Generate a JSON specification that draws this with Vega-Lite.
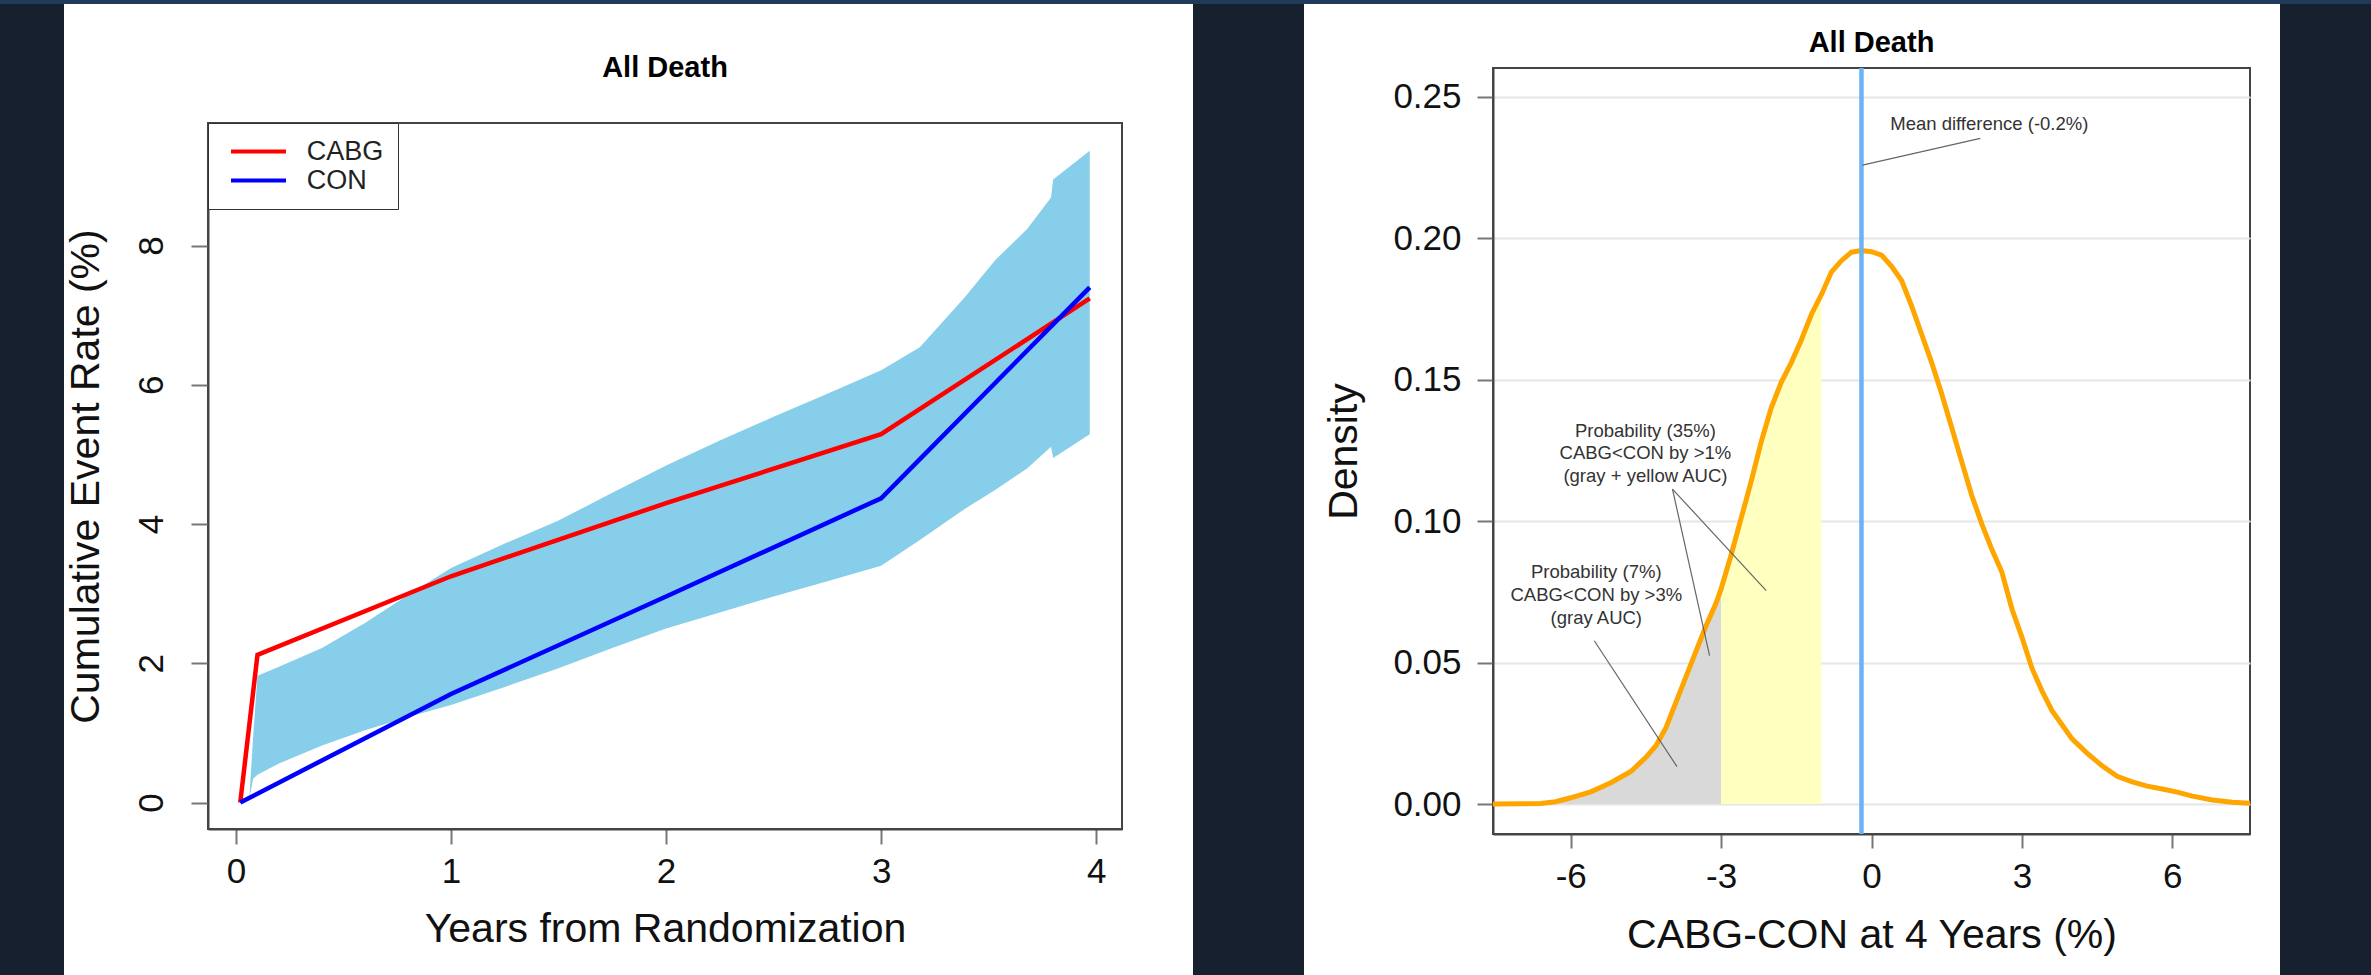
{
  "$schema": "https://vega.github.io/schema/vega-lite/v6.json",
  "background": "white",
  "padding": 0,
  "autosize": {"type": "pad"},
  "spacing": 0,
  "resolve": {"legend": {"color": "independent"}},
  "config": {
    "font": "Liberation Sans",
    "view": {"stroke": null},
    "concat": {"spacing": 0},
    "axis": {
      "labelFont": "Liberation Sans",
      "titleFont": "Liberation Sans",
      "labelFontSize": 35,
      "titleFontSize": 41,
      "titleFontWeight": "normal",
      "labelColor": "#111",
      "titleColor": "#111",
      "tickColor": "#777",
      "tickWidth": 2,
      "domainColor": "#444",
      "domainWidth": 2,
      "labelFlush": false,
      "labelOverlap": false,
      "labelBound": false,
      "grid": false
    }
  },
  "datasets": {
    "curves": [
      {"year": 0.02, "rate": 0, "group": "CABG"},
      {"year": 0.1, "rate": 2.12, "group": "CABG"},
      {"year": 1, "rate": 3.25, "group": "CABG"},
      {"year": 2, "rate": 4.3, "group": "CABG"},
      {"year": 3, "rate": 5.29, "group": "CABG"},
      {"year": 3.97, "rate": 7.24, "group": "CABG"},
      {"year": 0.02, "rate": 0, "group": "CON"},
      {"year": 1, "rate": 1.56, "group": "CON"},
      {"year": 2, "rate": 2.96, "group": "CON"},
      {"year": 3, "rate": 4.37, "group": "CON"},
      {"year": 3.97, "rate": 7.4, "group": "CON"}
    ],
    "band": [
      {"year": 0.062, "lo": 0.06, "hi": 0.06},
      {"year": 0.08, "lo": 0.34, "hi": 0.95},
      {"year": 0.1, "lo": 0.4, "hi": 1.82},
      {"year": 0.2, "lo": 0.56, "hi": 1.95},
      {"year": 0.4, "lo": 0.82, "hi": 2.22},
      {"year": 0.6, "lo": 1.04, "hi": 2.58},
      {"year": 0.8, "lo": 1.23, "hi": 2.98},
      {"year": 1.0, "lo": 1.4, "hi": 3.37},
      {"year": 1.25, "lo": 1.66, "hi": 3.72},
      {"year": 1.5, "lo": 1.93, "hi": 4.05},
      {"year": 1.75, "lo": 2.22, "hi": 4.45},
      {"year": 2.0, "lo": 2.5, "hi": 4.84},
      {"year": 2.25, "lo": 2.73, "hi": 5.2},
      {"year": 2.5, "lo": 2.96, "hi": 5.54},
      {"year": 2.75, "lo": 3.18, "hi": 5.87},
      {"year": 3.0, "lo": 3.4, "hi": 6.21},
      {"year": 3.18, "lo": 3.77, "hi": 6.54},
      {"year": 3.39, "lo": 4.22, "hi": 7.26},
      {"year": 3.53, "lo": 4.49, "hi": 7.79},
      {"year": 3.68, "lo": 4.8, "hi": 8.24},
      {"year": 3.79, "lo": 5.11, "hi": 8.69},
      {"year": 3.8, "lo": 4.95, "hi": 8.95},
      {"year": 3.97, "lo": 5.29, "hi": 9.36}
    ],
    "density": [
      {"diff": -7.6, "dens": 0.0},
      {"diff": -7.0, "dens": 0.0001},
      {"diff": -6.6, "dens": 0.0002},
      {"diff": -6.3, "dens": 0.0008},
      {"diff": -6.0, "dens": 0.0022},
      {"diff": -5.6, "dens": 0.0043},
      {"diff": -5.2, "dens": 0.0075},
      {"diff": -4.8, "dens": 0.0115},
      {"diff": -4.5, "dens": 0.0165},
      {"diff": -4.3, "dens": 0.0206},
      {"diff": -4.1, "dens": 0.027},
      {"diff": -3.9, "dens": 0.036},
      {"diff": -3.7, "dens": 0.045},
      {"diff": -3.5, "dens": 0.054},
      {"diff": -3.3, "dens": 0.063},
      {"diff": -3.1, "dens": 0.071},
      {"diff": -3.0, "dens": 0.076},
      {"diff": -2.8, "dens": 0.088},
      {"diff": -2.6, "dens": 0.101},
      {"diff": -2.4, "dens": 0.114},
      {"diff": -2.2, "dens": 0.128},
      {"diff": -2.0, "dens": 0.14},
      {"diff": -1.8, "dens": 0.149},
      {"diff": -1.6, "dens": 0.156},
      {"diff": -1.4, "dens": 0.164},
      {"diff": -1.2, "dens": 0.173},
      {"diff": -1.0, "dens": 0.18},
      {"diff": -0.8, "dens": 0.188},
      {"diff": -0.6, "dens": 0.192},
      {"diff": -0.4, "dens": 0.195},
      {"diff": -0.2, "dens": 0.1956},
      {"diff": 0.0, "dens": 0.1952},
      {"diff": 0.2, "dens": 0.194},
      {"diff": 0.4, "dens": 0.19},
      {"diff": 0.6, "dens": 0.185},
      {"diff": 0.8, "dens": 0.176},
      {"diff": 1.0, "dens": 0.166},
      {"diff": 1.2, "dens": 0.156},
      {"diff": 1.4, "dens": 0.145},
      {"diff": 1.6, "dens": 0.133},
      {"diff": 1.8, "dens": 0.121},
      {"diff": 2.0, "dens": 0.109},
      {"diff": 2.2, "dens": 0.099},
      {"diff": 2.4, "dens": 0.09},
      {"diff": 2.6, "dens": 0.082},
      {"diff": 2.8, "dens": 0.069},
      {"diff": 3.0, "dens": 0.059},
      {"diff": 3.2, "dens": 0.048},
      {"diff": 3.4, "dens": 0.04},
      {"diff": 3.6, "dens": 0.033},
      {"diff": 3.8, "dens": 0.028},
      {"diff": 4.0, "dens": 0.023},
      {"diff": 4.3, "dens": 0.018},
      {"diff": 4.6, "dens": 0.0135},
      {"diff": 4.9, "dens": 0.0098},
      {"diff": 5.2, "dens": 0.0078},
      {"diff": 5.5, "dens": 0.0063},
      {"diff": 5.8, "dens": 0.0053},
      {"diff": 6.1, "dens": 0.0042},
      {"diff": 6.4, "dens": 0.0028},
      {"diff": 6.8, "dens": 0.0014},
      {"diff": 7.2, "dens": 0.0006},
      {"diff": 7.6, "dens": 0.0002}
    ],
    "mean": [{"mean": -0.2}],
    "leaders": [
      {"x": 2.17, "y": 0.2352, "x2": -0.18, "y2": 0.2258},
      {"x": -3.97, "y": 0.1113, "x2": -3.23, "y2": 0.0524},
      {"x": -3.97, "y": 0.1113, "x2": -2.1, "y2": 0.0754},
      {"x": -5.53, "y": 0.0577, "x2": -3.88, "y2": 0.0132}
    ],
    "notes": [
      {"x": 2.35, "y": 0.2403, "label": "Mean difference (-0.2%)"},
      {"x": -4.51, "y": 0.1319, "label": "Probability (35%)\nCABG<CON by >1%\n(gray + yellow AUC)"},
      {"x": -5.49, "y": 0.0819, "label": "Probability (7%)\nCABG<CON by >3%\n(gray AUC)"}
    ],
    "one": [{"k": 1}]
  },
  "vconcat": [
    {
      "width": 2371, "height": 4,
      "view": {"fill": "#1f3b59", "stroke": null},
      "data": {"name": "one"},
      "mark": {"type": "point", "opacity": 0, "size": 1}
    },
    {
      "spacing": 0,
      "resolve": {"legend": {"color": "independent"}},
      "hconcat": [
        {
          "width": 64, "height": 971,
          "view": {"fill": "#16202e", "stroke": null},
          "data": {"name": "one"},
          "mark": {"type": "point", "opacity": 0, "size": 1}
        },
        {
          "spacing": 0,
          "resolve": {"legend": {"color": "independent"}},
          "vconcat": [
            {
              "width": 914, "height": 48.7,
              "data": {"name": "one"},
              "mark": {"type": "point", "opacity": 0, "size": 1}
            },
            {
              "width": 914, "height": 706,
              "view": {"stroke": "#444", "strokeWidth": 2},
              "title": {"text": "All Death", "fontSize": 29, "fontWeight": "bold", "offset": 39.3, "color": "#000", "anchor": "middle", "font": "Liberation Sans"},
              "layer": [
                {
                  "data": {"name": "band"},
                  "mark": {"type": "area", "color": "#87CEEB", "opacity": 1},
                  "encoding": {
                    "x": {"field": "year", "type": "quantitative", "title": "Years from Randomization",
                      "scale": {"domain": [-0.13, 4.12], "nice": false, "zero": false},
                      "axis": {"values": [0, 1, 2, 3, 4], "format": "d", "tickSize": 15, "labelPadding": 10, "titlePadding": 20}},
                    "y": {"field": "hi", "type": "quantitative", "title": "Cumulative Event Rate (%)",
                      "scale": {"domain": [-0.38, 9.76], "nice": false, "zero": false},
                      "axis": {"values": [0, 2, 4, 6, 8], "format": "d", "tickSize": 17, "labelAngle": -90, "labelAlign": "center", "labelBaseline": "alphabetic", "labelPadding": 29, "titlePadding": 27}},
                    "y2": {"field": "lo"}
                  }
                },
                {
                  "data": {"name": "curves"},
                  "mark": {"type": "line", "strokeWidth": 4.5},
                  "encoding": {
                    "x": {"field": "year", "type": "quantitative", "title": "Years from Randomization"},
                    "y": {"field": "rate", "type": "quantitative", "title": "Cumulative Event Rate (%)"},
                    "color": {"field": "group", "type": "nominal",
                      "scale": {"domain": ["CABG", "CON"], "range": ["#ff0000", "#0000ff"]},
                      "legend": {"orient": "none", "legendX": 0, "legendY": 0, "title": null, "padding": 14,
                        "fillColor": "white", "strokeColor": "#333",
                        "symbolType": "stroke", "symbolSize": 3025, "symbolStrokeWidth": 4,
                        "clipHeight": 29, "rowPadding": 0, "symbolOffset": 7, "labelOffset": 18.7,
                        "labelFontSize": 27, "labelFont": "Liberation Sans", "labelColor": "#222"}}
                  }
                }
              ]
            }
          ]
        },
        {
          "width": 70, "height": 10,
          "data": {"name": "one"},
          "mark": {"type": "point", "opacity": 0, "size": 1}
        },
        {
          "width": 111, "height": 971,
          "view": {"fill": "#16202e", "stroke": null},
          "data": {"name": "one"},
          "mark": {"type": "point", "opacity": 0, "size": 1}
        },
        {
          "width": 18, "height": 10,
          "data": {"name": "one"},
          "mark": {"type": "point", "opacity": 0, "size": 1}
        },
        {
          "spacing": 0,
          "vconcat": [
            {
              "width": 757, "height": 23.9,
              "data": {"name": "one"},
              "mark": {"type": "point", "opacity": 0, "size": 1}
            },
            {
              "width": 757, "height": 766,
              "view": {"stroke": "#444", "strokeWidth": 2},
              "title": {"text": "All Death", "fontSize": 29, "fontWeight": "bold", "offset": 7.6, "color": "#000", "anchor": "middle", "font": "Liberation Sans"},
              "layer": [
                {
                  "data": {"name": "density"},
                  "transform": [{"filter": "datum.diff <= -3"}],
                  "mark": {"type": "area", "color": "#d9d9d9", "opacity": 1, "clip": true},
                  "encoding": {
                    "x": {"field": "diff", "type": "quantitative", "title": "CABG-CON at 4 Years (%)",
                      "scale": {"domain": [-7.55, 7.55], "nice": false, "zero": false},
                      "axis": {"values": [-6, -3, 0, 3, 6], "labelExpr": "'' + datum.value", "tickSize": 14, "labelPadding": 11, "titlePadding": 21}},
                    "y": {"field": "dens", "type": "quantitative", "title": "Density",
                      "scale": {"domain": [-0.0106, 0.2601], "nice": false, "zero": false},
                      "axis": {"values": [0, 0.05, 0.1, 0.15, 0.2, 0.25], "format": ".2f", "tickSize": 16, "labelPadding": 16, "titlePadding": 27, "grid": true, "gridColor": "#e6e6e6", "gridWidth": 2}}
                  }
                },
                {
                  "data": {"name": "density"},
                  "transform": [{"filter": "datum.diff >= -3 && datum.diff <= -1"}],
                  "mark": {"type": "area", "color": "#ffffc0", "opacity": 1, "clip": true},
                  "encoding": {
                    "x": {"field": "diff", "type": "quantitative", "title": "CABG-CON at 4 Years (%)"},
                    "y": {"field": "dens", "type": "quantitative", "title": "Density"}
                  }
                },
                {
                  "data": {"name": "density"},
                  "mark": {"type": "line", "color": "#ffa500", "strokeWidth": 5, "clip": true},
                  "encoding": {
                    "x": {"field": "diff", "type": "quantitative", "title": "CABG-CON at 4 Years (%)"},
                    "y": {"field": "dens", "type": "quantitative", "title": "Density"}
                  }
                },
                {
                  "data": {"name": "mean"},
                  "mark": {"type": "rule", "color": "#6ab4f5", "strokeWidth": 4.5},
                  "encoding": {
                    "x": {"field": "mean", "type": "quantitative", "title": "CABG-CON at 4 Years (%)"}
                  }
                },
                {
                  "data": {"name": "leaders"},
                  "mark": {"type": "rule", "color": "#666", "strokeWidth": 1.2},
                  "encoding": {
                    "x": {"field": "x", "type": "quantitative", "title": "CABG-CON at 4 Years (%)"},
                    "y": {"field": "y", "type": "quantitative", "title": "Density"},
                    "x2": {"field": "x2"},
                    "y2": {"field": "y2"}
                  }
                },
                {
                  "data": {"name": "notes"},
                  "mark": {"type": "text", "lineBreak": "\n", "fontSize": 18.5, "lineHeight": 22.7, "color": "#333", "align": "center", "baseline": "middle", "font": "Liberation Sans"},
                  "encoding": {
                    "x": {"field": "x", "type": "quantitative", "title": "CABG-CON at 4 Years (%)"},
                    "y": {"field": "y", "type": "quantitative", "title": "Density"},
                    "text": {"field": "label"}
                  }
                }
              ]
            }
          ]
        },
        {
          "width": 29, "height": 10,
          "data": {"name": "one"},
          "mark": {"type": "point", "opacity": 0, "size": 1}
        },
        {
          "width": 91, "height": 971,
          "view": {"fill": "#16202e", "stroke": null},
          "data": {"name": "one"},
          "mark": {"type": "point", "opacity": 0, "size": 1}
        }
      ]
    }
  ]
}
